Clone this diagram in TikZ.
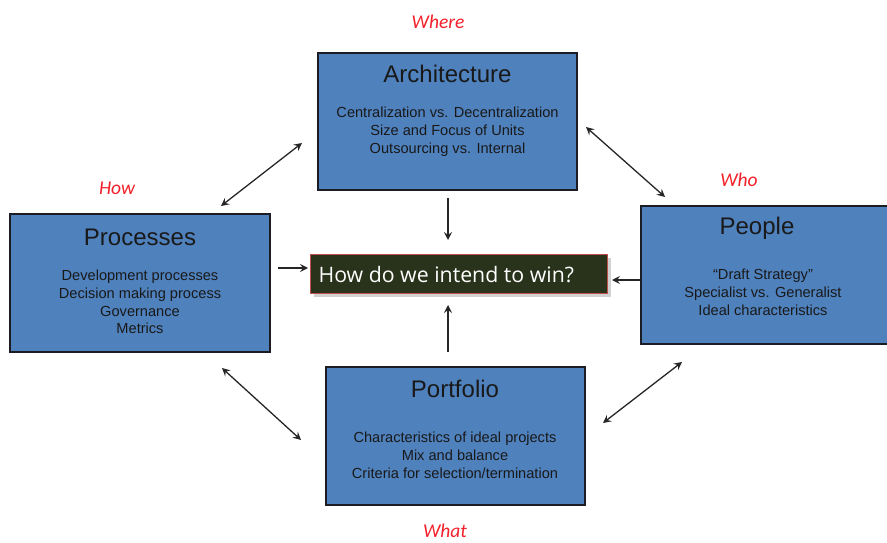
\documentclass[tikz,border=0pt]{standalone}
\usepackage{fontspec}
\setmainfont{Liberation Sans}
\newfontfamily\labfont{Carlito}
\newfontfamily\winfont{Open Sans}
\usetikzlibrary{arrows.meta,shadows}
\definecolor{boxblue}{HTML}{4F81BD}
\definecolor{boxedge}{HTML}{1C1C24}
\definecolor{winfill}{HTML}{29321A}
\definecolor{winedge}{HTML}{C0504D}
\definecolor{labred}{HTML}{F2202A}
\begin{document}
\begin{tikzpicture}[x=1pt,y=-1pt,
  bluebox/.style={draw=boxedge,line width=1.3pt,fill=boxblue,inner sep=0pt},
  ttl/.style={font=\fontsize{24}{28}\selectfont,text=black!90},
  sub/.style={font=\fontsize{14.6}{17.8}\selectfont,align=center,text=black!90},
  lab/.style={font=\labfont\itshape\fontsize{19.5}{22}\selectfont,text=labred},
  dbl/.style={{Stealth[length=8pt,width=8pt,inset=3pt]}-{Stealth[length=8pt,width=8pt,inset=3pt]},line width=1.3pt,draw=black!85},
  sgl/.style={-{Stealth[length=8pt,width=8pt,inset=3pt]},line width=1.3pt,draw=black!85}]
\useasboundingbox (0,0) rectangle (887,543);
% boxes
\node[bluebox,minimum width=259pt,minimum height=137pt] (arch) at (447.5,121.5) {};
\node[bluebox,minimum width=260pt,minimum height=138pt] (proc) at (140,283) {};
\node[bluebox,minimum width=250pt,minimum height=138pt] (peop) at (766,275) {};
\node[bluebox,minimum width=259pt,minimum height=138pt] (port) at (455.5,436) {};
% titles
\node[ttl] (archT) at (447.5,74) {Architecture};
\node[sub] (archS) at (447.5,131.5) {Centralization vs. Decentralization\\Size and Focus of Units\\Outsourcing vs. Internal};
\node[ttl] (procT) at (140,237) {Processes};
\node[sub] (procS) at (140,302) {Development processes\\Decision making process\\Governance\\Metrics};
\node[ttl] (peopT) at (757,228) {People};
\node[sub] (peopS) at (763,292) {“Draft Strategy”\\Specialist vs. Generalist\\Ideal characteristics};
\node[ttl] (portT) at (455,389) {Portfolio};
\node[sub] (portS) at (455,455) {Characteristics of ideal projects\\Mix and balance\\Criteria for selection/termination};
% center
\node[draw=winedge,line width=1.2pt,fill=winfill,minimum width=297pt,minimum height=39pt,inner sep=0pt,
  drop shadow={shadow xshift=3pt,shadow yshift=-3pt,fill=black!30,opacity=0.6}] (win) at (459,274) {};
\node[font=\winfont\fontsize{21.3}{24}\selectfont,text=white,anchor=west] (winT) at (315,275) {How do we intend to win?};
% red labels
\node[lab] (where) at (438,22) {Where};
\node[lab] (how) at (117,188) {How};
\node[lab] (who) at (739,180) {Who};
\node[lab] (what) at (445,531) {What};
% arrow end points
\coordinate (a1) at (302,143); \coordinate (a2) at (221,206);
\coordinate (b1) at (586,127); \coordinate (b2) at (665,197);
\coordinate (c1) at (222,368); \coordinate (c2) at (301,440);
\coordinate (d1) at (603,423); \coordinate (d2) at (682,362);
\coordinate (e1) at (448,198); \coordinate (e2) at (448,240);
\coordinate (f1) at (448,352); \coordinate (f2) at (448,305);
\coordinate (g1) at (278,268); \coordinate (g2) at (308,268);
\coordinate (h1) at (641,280); \coordinate (h2) at (612,280);
\draw[dbl] (a1) -- (a2);
\draw[dbl] (b1) -- (b2);
\draw[dbl] (c1) -- (c2);
\draw[dbl] (d1) -- (d2);
\draw[sgl] (e1) -- (e2);
\draw[sgl] (f1) -- (f2);
\draw[sgl] (g1) -- (g2);
\draw[sgl] (h1) -- (h2);
\end{tikzpicture}
\end{document}
